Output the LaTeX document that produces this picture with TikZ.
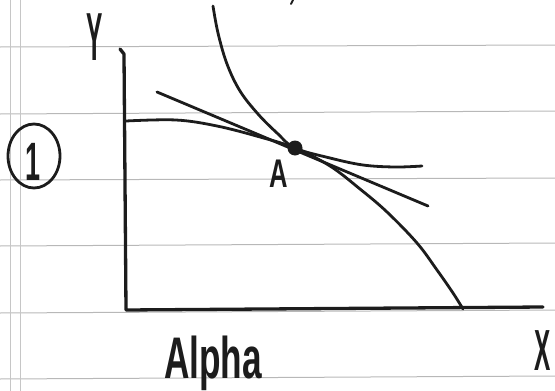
\documentclass[tikz,border=0pt]{standalone}
\usepackage{fontspec}
\setmainfont{Liberation Sans}
\usetikzlibrary{calc,shapes.geometric}
\definecolor{ink}{HTML}{1C1C1C}
\definecolor{rule}{HTML}{B8B8B8}
\tikzset{
  ruling/.style={draw=rule, line width=1pt},
  margin/.style={draw=rule!80, line width=0.9pt},
  axis/.style={draw=ink, line width=3.3pt, line cap=round, line join=round},
  curve/.style={draw=ink, line width=2.8pt, line cap=round, line join=round},
  hand/.style={inner sep=0pt, text=ink, font=\bfseries},
  dot/.style={circle, fill=ink, inner sep=0pt, minimum size=15pt},
}
\begin{document}
\begin{tikzpicture}[x=1pt,y=-1pt]
\useasboundingbox (0,0) rectangle (555,391);
% paper rulings
\foreach \l/\r in {47/45,114/111,180/178,246/243,313/310,379/376}
  \draw[ruling] (0,\l) -- (555,\r);
\draw[margin] (10.5,0) -- (10.5,391);
\draw[margin] (20,0) -- (20,391);
% axes
\coordinate (ytop) at (120,49);
\coordinate (O) at (126,310);
\coordinate (xend) at (543,307);
\draw[axis] (ytop) -- (124,54) -- (O) -- (xend);
% point A
\node[dot] (A) at (295,148) {};
% production possibility curve
\draw[curve] plot[smooth, tension=0.6] coordinates {(126,121) (176,120) (217,126) (260,137) (A) (330,166) (360,189) (387,212) (417,243) (437,270) (453,293) (463,309)};
% indifference curve
\draw[curve] plot[smooth, tension=0.6] coordinates {(213,6) (218,33) (227,64) (240,91) (258,114) (277,133) (A) (330,158) (363,165) (395,167) (422,166)};
% tangent line
\coordinate (t1) at (157,92);
\coordinate (t2) at (428,206);
\draw[curve] (t1) -- (t2);
% small mark at top
\draw[curve, line width=2pt] (293,0) -- (291,4);
% circled 1
\node[draw=ink, line width=2.8pt, ellipse, minimum width=52pt, minimum height=64pt, inner sep=0pt] (c1) at (34,156) {};
\node[hand, anchor=base] (one) at (33,180) {\fontsize{54}{56}\selectfont\scalebox{0.5}[1]{1}};
% labels
\node[hand, anchor=base] (ylab) at (95,60) {\fontsize{68}{70}\selectfont\scalebox{0.36}[1]{Y}};
\node[hand, anchor=base] (xlab) at (543,370) {\fontsize{58}{60}\selectfont\scalebox{0.42}[1]{X}};
\node[hand, anchor=base] (alab) at (279,187) {\fontsize{40}{42}\selectfont\scalebox{0.64}[1]{A}};
\node[hand, anchor=base] (alpha) at (213,378) {\fontsize{58.7}{60}\selectfont\scalebox{0.6}[1]{Alpha}};
\end{tikzpicture}
\end{document}
